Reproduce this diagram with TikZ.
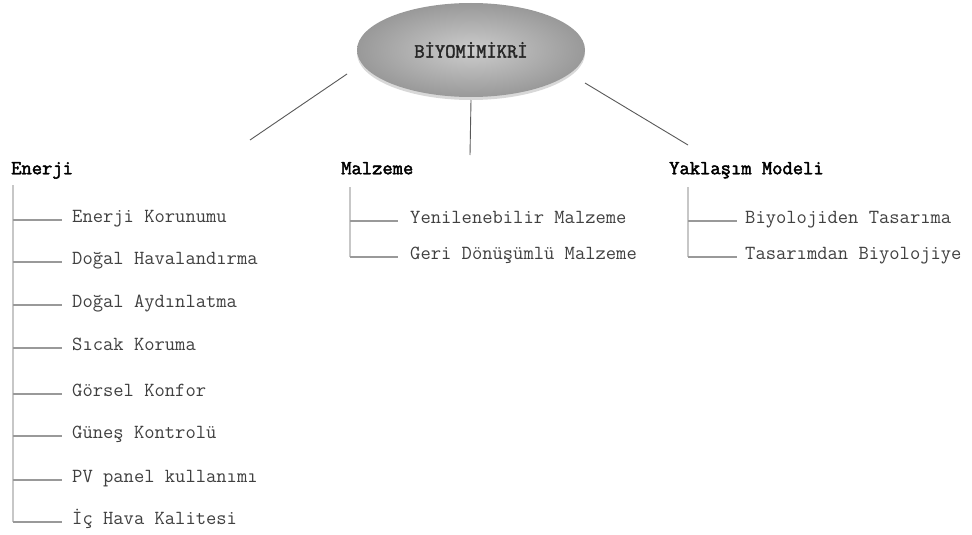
\documentclass[tikz,border=0pt]{standalone}
\usepackage{fontspec}
\newfontfamily\hdfont{Latin Modern Mono}[FakeBold=2.2]
\usetikzlibrary{shapes.geometric,shadows}
\begin{document}
\begin{tikzpicture}[x=1pt,y=-1pt,
 item/.style={anchor=west,inner sep=0pt,text height=0.6em,text depth=0.15em,font=\fontsize{20}{22}\selectfont\ttfamily,text=black!75},
 head/.style={item,font=\fontsize{20}{22}\selectfont\hdfont,text=black},
 trunk/.style={draw=black!22,line width=2pt},
 twig/.style={draw=black!40,line width=1.2pt},
 link/.style={draw=black!65,line width=0.9pt}]
\useasboundingbox[fill=white] (0,0) rectangle (972,535);

% root
\node[ellipse,minimum width=228pt,minimum height=94pt,inner sep=0pt,
  inner color=black!20,outer color=black!40,
  drop shadow={shadow xshift=0pt,shadow yshift=-3pt,opacity=0.3},
  font=\fontsize{20}{22}\selectfont\hdfont,text=black!85] (root) at (471,50) {BİYOMİMİKRİ};

\coordinate (lA) at (347,74);  \coordinate (lB) at (250,140);
\coordinate (mA) at (471,100); \coordinate (mB) at (470,155);
\coordinate (rA) at (585,83);  \coordinate (rB) at (688,145);
\draw[link] (lA) -- (lB);
\draw[link] (mA) -- (mB);
\draw[link] (rA) -- (rB);

% headings
\node[head] (h1) at (11,172) {Enerji};
\node[head] (h2) at (341,172) {Malzeme};
\node[head] (h3) at (669,172) {Yaklaşım Modeli};

% Enerji items
\node[item] (e1) at (72,220) {Enerji Korunumu};
\node[item] (e2) at (72,262) {Doğal Havalandırma};
\node[item] (e3) at (72,305) {Doğal Aydınlatma};
\node[item] (e4) at (72,348) {Sıcak Koruma};
\node[item] (e5) at (72,394) {Görsel Konfor};
\node[item] (e6) at (72,436) {Güneş Kontrolü};
\node[item] (e7) at (72,480) {PV panel kullanımı};
\node[item] (e8) at (72,522) {İç Hava Kalitesi};

\coordinate (eT) at (13,185);
\coordinate (eB) at (13,522);
\draw[trunk] (eT) -- (eB);
\foreach \i/\y in {1/220,2/262,3/305,4/348,5/394,6/436,7/480,8/522}{
  \draw[twig] (13,\y) -- ([xshift=-10pt]e\i.west);
}

% Malzeme items
\node[item] (m1) at (410,221) {Yenilenebilir Malzeme};
\node[item] (m2) at (410,257) {Geri Dönüşümlü Malzeme};
\coordinate (mT) at (350,187);
\coordinate (mBot) at (350,257);
\draw[trunk] (mT) -- (mBot);
\draw[twig] (350,221) -- ([xshift=-12pt]m1.west);
\draw[twig] (mBot) -- ([xshift=-12pt]m2.west);

% Yaklasim items
\node[item] (y1) at (745,221) {Biyolojiden Tasarıma};
\node[item] (y2) at (745,257) {Tasarımdan Biyolojiye};
\coordinate (yT) at (688,187);
\coordinate (yBot) at (688,257);
\draw[trunk] (yT) -- (yBot);
\draw[twig] (688,221) -- ([xshift=-8pt]y1.west);
\draw[twig] (yBot) -- ([xshift=-8pt]y2.west);
\end{tikzpicture}
\end{document}
